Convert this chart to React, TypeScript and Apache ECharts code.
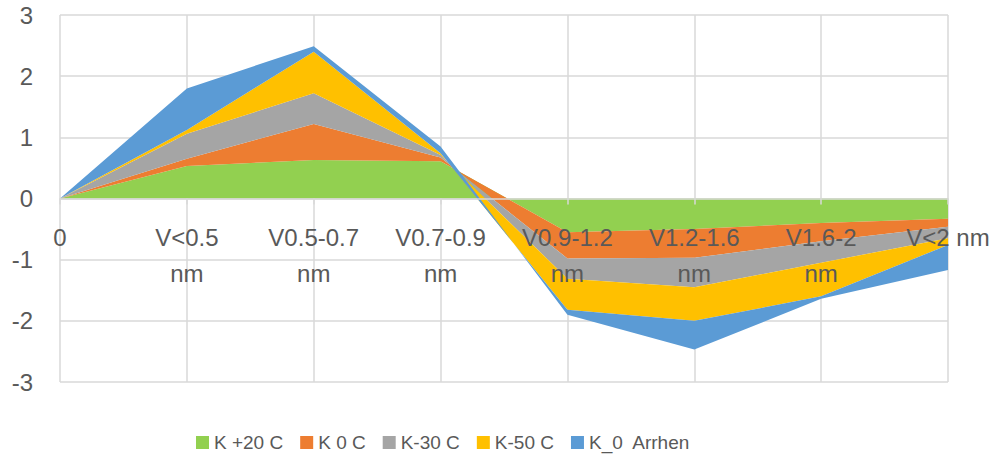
import React, { useEffect, useRef } from "react";
import * as echarts from "echarts";

// Category labels (wrapped as in the reference)
const categories = [
  "0",
  "V<0.5\nnm",
  "V0.5-0.7\nnm",
  "V0.7-0.9\nnm",
  "V0.9-1.2\nnm",
  "V1.2-1.6\nnm",
  "V1.6-2\nnm",
  "V<2 nm",
];

const seriesNames = ["K +20 C", "K 0 C", "K-30 C", "K-50 C", "K_0  Arrhen"];
const colors = ["#92d050", "#ed7d31", "#a5a5a5", "#ffc000", "#5b9bd5"];

// Stacked area values (each series adds to the ones before it)
const k20 = [0, 0.53, 0.63, 0.61, -0.55, -0.5, -0.4, -0.33];
const k0 = [0, 0.12, 0.59, 0.06, -0.43, -0.47, -0.3, -0.13];
const k30 = [0, 0.41, 0.5, 0.04, -0.33, -0.48, -0.35, -0.19];
const k50 = [0, 0.06, 0.68, 0.03, -0.51, -0.55, -0.55, -0.11];
const arrhen = [0, 0.68, 0.09, 0.11, -0.08, -0.47, -0.04, -0.41];

const yTicks = { min: -3, max: 3, interval: 1 };

const FONT = "'Liberation Sans', Arial, sans-serif";
const TEXT = "#595959";
const GRID = "#d9d9d9";

const GRID_TOP = 15;
const GRID_BOTTOM = 80;
const HEIGHT = 462;

export default function App() {
  const ref = useRef<HTMLDivElement>(null);

  useEffect(() => {
    if (!ref.current) return;
    const chart = echarts.init(ref.current, null, { renderer: "svg" });
    const data = [k20, k0, k30, k50, arrhen];
    const plotH = HEIGHT - GRID_TOP - GRID_BOTTOM;
    // distance from the bottom edge of the plot up to the value 0
    const zeroOffset = (plotH * (0 - yTicks.min)) / (yTicks.max - yTicks.min);
    chart.setOption({
      animation: false,
      backgroundColor: "#ffffff",
      grid: {
        left: 60,
        right: 44,
        top: GRID_TOP,
        bottom: GRID_BOTTOM,
        containLabel: false,
        outerBoundsMode: "none",
      },
      legend: {
        data: seriesNames,
        left: 191,
        top: 428,
        itemWidth: 13,
        itemHeight: 13,
        itemGap: 17,
        icon: "rect",
        textStyle: { fontFamily: FONT, fontSize: 19, color: TEXT },
      },
      xAxis: [
        {
          // vertical gridlines, under the areas
          type: "category",
          data: categories,
          boundaryGap: false,
          axisLine: { show: false, onZero: false },
          axisTick: { show: false },
          axisLabel: { show: false },
          splitLine: { show: true, lineStyle: { color: GRID, width: 1.5 } },
        },
        {
          // axis line, ticks and labels at the value 0, above the areas
          type: "category",
          data: categories,
          boundaryGap: false,
          position: "bottom",
          offset: -zeroOffset,
          z: 10,
          axisLine: { show: true, onZero: false, lineStyle: { color: GRID, width: 1.5 } },
          axisTick: { show: true, length: 6, lineStyle: { color: GRID, width: 1.5 } },
          axisLabel: {
            interval: 0,
            margin: 21,
            fontFamily: FONT,
            fontSize: 24,
            lineHeight: 36,
            color: TEXT,
          },
          splitLine: { show: false },
        },
      ],
      yAxis: {
        type: "value",
        min: yTicks.min,
        max: yTicks.max,
        interval: yTicks.interval,
        axisLine: { show: false },
        axisTick: { show: false },
        axisLabel: { margin: 27, fontFamily: FONT, fontSize: 24, color: TEXT },
        splitLine: { show: true, lineStyle: { color: GRID, width: 1.5 } },
      },
      series: seriesNames.map((name, i) => ({
        name,
        type: "line",
        stack: "total",
        xAxisIndex: 0,
        data: data[i],
        symbol: "none",
        showSymbol: false,
        lineStyle: { width: 0, opacity: 0 },
        itemStyle: { color: colors[i] },
        areaStyle: { color: colors[i], opacity: 1 },
      })),
    });
    return () => chart.dispose();
  }, []);

  return (
    <div
      ref={ref}
      style={{ position: "fixed", left: 0, top: 0, width: 992, height: 462 }}
    />
  );
}
